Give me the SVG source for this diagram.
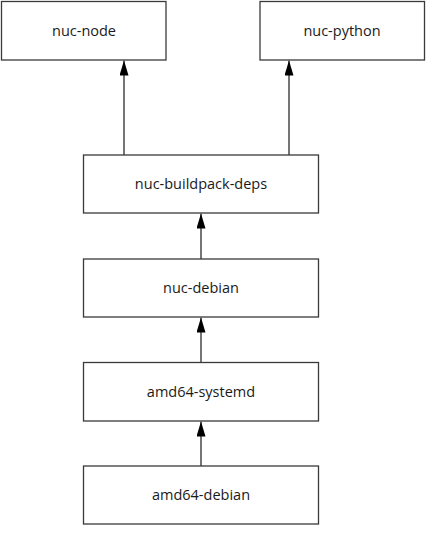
<svg xmlns="http://www.w3.org/2000/svg" width="442" height="539" viewBox="0 0 442 539">
<style>
.box{fill:#fff;stroke:#3a3a3a;stroke-width:1.3}
.lbl{font-family:"Open Sans","Liberation Sans",sans-serif;font-size:14.5px;fill:#1a1a1a;text-anchor:middle}
.edge{stroke:#1a1a1a;stroke-width:1.2;fill:none;marker-end:url(#ah)}
</style>
<defs>
<marker id="ah" markerWidth="15" markerHeight="9" refX="15" refY="4.5" orient="auto" markerUnits="userSpaceOnUse" viewBox="0 0 15 9">
<path d="M0,0 L15,4.5 L0,9 Z" fill="#000"/>
</marker>
</defs>
<rect width="442" height="539" fill="#fff"/>
<g id="connectors">
<path class="edge" d="M124,155 L124,60.5"/>
<path class="edge" d="M289,155 L289,60.5"/>
<path class="edge" d="M201,259 L201,213.5"/>
<path class="edge" d="M201,362 L201,317.5"/>
<path class="edge" d="M201,466 L201,421.5"/>
</g>
<g id="nuc-node"><rect class="box" x="1.5" y="1.5" width="164.5" height="58.5"/><text class="lbl" x="84" y="36">nuc-node</text></g>
<g id="nuc-python"><rect class="box" x="260" y="1.5" width="164.5" height="58.5"/><text class="lbl" x="342" y="36">nuc-python</text></g>
<g id="nuc-buildpack-deps"><rect class="box" x="83.5" y="155" width="235" height="58"/><text class="lbl" x="201" y="189">nuc-buildpack-deps</text></g>
<g id="nuc-debian"><rect class="box" x="83.5" y="259" width="235" height="58"/><text class="lbl" x="201" y="293">nuc-debian</text></g>
<g id="amd64-systemd"><rect class="box" x="83.5" y="362.5" width="235" height="58.5"/><text class="lbl" x="201" y="397">amd64-systemd</text></g>
<g id="amd64-debian"><rect class="box" x="83.5" y="466" width="235" height="58"/><text class="lbl" x="201" y="500">amd64-debian</text></g>
</svg>
